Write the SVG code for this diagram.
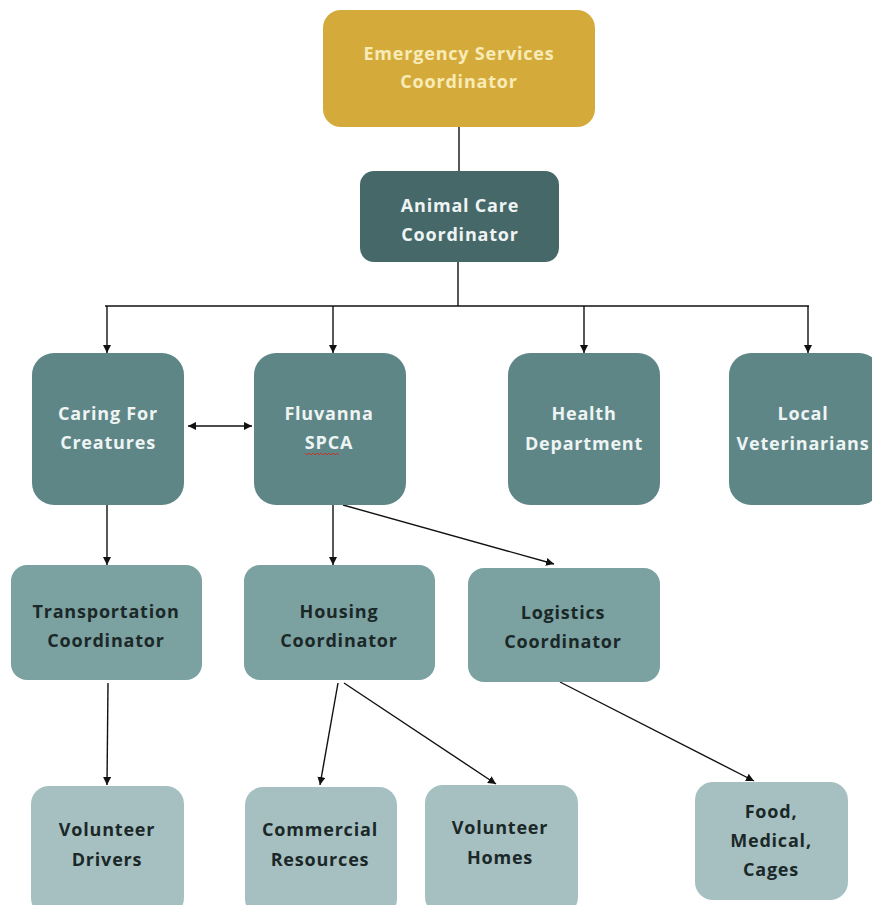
<svg xmlns="http://www.w3.org/2000/svg" width="872" height="905" viewBox="0 0 872 905">
<defs>
<marker id="ah" viewBox="0 0 10 10" refX="10" refY="5" markerWidth="8" markerHeight="8" markerUnits="userSpaceOnUse" orient="auto-start-reverse">
<path d="M0,0 L10,5 L0,10 z" fill="#111"/>
</marker>
<style>
.t{font-family:"Open Sans","Liberation Sans",sans-serif;font-weight:bold;font-size:18px;letter-spacing:0.8px;text-anchor:middle}
.c{stroke:#111;stroke-width:1.4;fill:none}
.top{fill:#D4AB3B}.ac{fill:#466868}.r2{fill:#5F8686}.r3{fill:#7BA1A1}.r4{fill:#A6C0C1}
.tl{fill:#F8EBB8}.tw{fill:#EEF4F4}.td{fill:#1B2828}
</style>
</defs>
<rect width="872" height="905" fill="#fff"/>
<g id="connectors">
<line class="c" x1="459" y1="127" x2="459" y2="171"/>
<line class="c" x1="458" y1="262" x2="458" y2="306"/>
<line class="c" x1="105" y1="306" x2="809" y2="306"/>
<line class="c" x1="107" y1="306" x2="107" y2="353" marker-end="url(#ah)"/>
<line class="c" x1="333" y1="306" x2="333" y2="353" marker-end="url(#ah)"/>
<line class="c" x1="584" y1="306" x2="584" y2="353" marker-end="url(#ah)"/>
<line class="c" x1="808" y1="306" x2="808" y2="353" marker-end="url(#ah)"/>
<line class="c" x1="188" y1="426" x2="252" y2="426" marker-start="url(#ah)" marker-end="url(#ah)"/>
<line class="c" x1="107" y1="505" x2="107" y2="565" marker-end="url(#ah)"/>
<line class="c" x1="333" y1="505" x2="333" y2="565" marker-end="url(#ah)"/>
<line class="c" x1="343" y1="505" x2="554" y2="564" marker-end="url(#ah)"/>
<line class="c" x1="108" y1="683" x2="107" y2="785" marker-end="url(#ah)"/>
<line class="c" x1="338" y1="683" x2="320" y2="785" marker-end="url(#ah)"/>
<line class="c" x1="344" y1="683" x2="496" y2="784" marker-end="url(#ah)"/>
<line class="c" x1="560" y1="682" x2="754" y2="781" marker-end="url(#ah)"/>
</g>
<g id="emergency">
<rect class="top" x="323" y="10" width="272" height="117" rx="18"/>
<text class="t tl" x="459" y="60">Emergency Services</text>
<text class="t tl" x="459" y="88">Coordinator</text>
</g>
<g id="animal-care">
<rect class="ac" x="360" y="171" width="199" height="91" rx="14"/>
<text class="t tw" x="460" y="212">Animal Care</text>
<text class="t tw" x="460" y="241">Coordinator</text>
</g>
<g id="caring">
<rect class="r2" x="32" y="353" width="152" height="152" rx="22"/>
<text class="t tw" x="108" y="420">Caring For</text>
<text class="t tw" x="108" y="449">Creatures</text>
</g>
<g id="fluvanna">
<rect class="r2" x="254" y="353" width="152" height="152" rx="22"/>
<text class="t tw" x="329" y="420">Fluvanna</text>
<text class="t tw" x="329" y="449">SPCA</text>
<path d="M305,453 l2,2 l2,-2 l2,2 l2,-2 l2,2 l2,-2 l2,2 l2,-2 l2,2 l2,-2 l2,2 l2,-2 l2,2 l2,-2 l2,2 l2,-2 l2,2" fill="none" stroke="#C0392B" stroke-width="1"/>
</g>
<g id="health">
<rect class="r2" x="508" y="353" width="152" height="152" rx="22"/>
<text class="t tw" x="584" y="420">Health</text>
<text class="t tw" x="584" y="450">Department</text>
</g>
<g id="local-vets">
<rect class="r2" x="729" y="353" width="152" height="152" rx="22"/>
<text class="t tw" x="803" y="420">Local</text>
<text class="t tw" x="803" y="450">Veterinarians</text>
</g>
<g id="transportation">
<rect class="r3" x="11" y="565" width="191" height="115" rx="16"/>
<text class="t td" x="106" y="618">Transportation</text>
<text class="t td" x="106" y="647">Coordinator</text>
</g>
<g id="housing">
<rect class="r3" x="244" y="565" width="191" height="115" rx="16"/>
<text class="t td" x="339" y="618">Housing</text>
<text class="t td" x="339" y="647">Coordinator</text>
</g>
<g id="logistics">
<rect class="r3" x="468" y="568" width="192" height="114" rx="16"/>
<text class="t td" x="563" y="619">Logistics</text>
<text class="t td" x="563" y="648">Coordinator</text>
</g>
<g id="volunteer-drivers">
<rect class="r4" x="31" y="786" width="153" height="130" rx="18"/>
<text class="t td" x="107" y="836">Volunteer</text>
<text class="t td" x="107" y="866">Drivers</text>
</g>
<g id="commercial">
<rect class="r4" x="245" y="787" width="152" height="130" rx="18"/>
<text class="t td" x="320" y="836">Commercial</text>
<text class="t td" x="320" y="866">Resources</text>
</g>
<g id="volunteer-homes">
<rect class="r4" x="425" y="785" width="153" height="130" rx="18"/>
<text class="t td" x="500" y="834">Volunteer</text>
<text class="t td" x="500" y="864">Homes</text>
</g>
<g id="supplies">
<rect class="r4" x="695" y="782" width="153" height="118" rx="18"/>
<text class="t td" x="771" y="818">Food,</text>
<text class="t td" x="771" y="847">Medical,</text>
<text class="t td" x="771" y="876">Cages</text>
</g>
</svg>
